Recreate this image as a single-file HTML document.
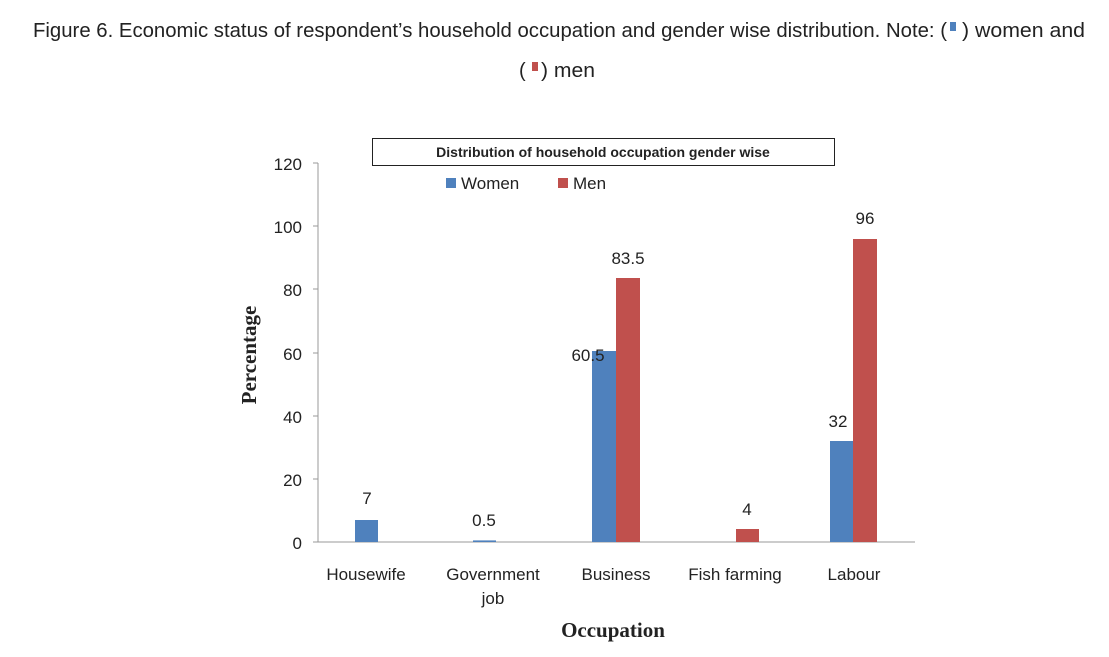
<!DOCTYPE html>
<html><head><style>body{margin:0;background:#fff}</style></head><body>
<svg width="1109" height="652" xmlns="http://www.w3.org/2000/svg">
<g font-family="Liberation Sans Narrow, Liberation Sans, sans-serif" font-size="20" fill="#222">
<text x="33" y="37" textLength="914" lengthAdjust="spacingAndGlyphs">Figure 6. Economic status of respondent’s household occupation and gender wise distribution. Note: (</text>
<text x="962" y="37" textLength="123" lengthAdjust="spacingAndGlyphs">) women  and</text>
<text x="519" y="77">(</text>
<text x="541" y="77" textLength="54" lengthAdjust="spacingAndGlyphs">) men</text>
</g>
<rect x="950" y="22" width="6" height="9" fill="#4f81bd"/>
<rect x="532" y="62" width="6" height="9" fill="#c0504d"/>
<g font-family="Liberation Sans, sans-serif" fill="#222">
<line x1="318" y1="163" x2="318" y2="542" stroke="#999"/>
<line x1="318" y1="542" x2="915" y2="542" stroke="#999"/>
<g stroke="#999">
<line x1="313" y1="163" x2="318" y2="163"/><line x1="313" y1="226" x2="318" y2="226"/><line x1="313" y1="289" x2="318" y2="289"/><line x1="313" y1="353" x2="318" y2="353"/><line x1="313" y1="416" x2="318" y2="416"/><line x1="313" y1="479" x2="318" y2="479"/><line x1="313" y1="542" x2="318" y2="542"/>
</g>
<g font-size="17" text-anchor="end">
<text x="302" y="170">120</text><text x="302" y="233">100</text><text x="302" y="296">80</text><text x="302" y="360">60</text><text x="302" y="423">40</text><text x="302" y="486">20</text><text x="302" y="549">0</text>
</g>
<rect x="372.5" y="138.5" width="462" height="27" fill="#fff" stroke="#222"/>
<text x="603" y="157" text-anchor="middle" font-size="14" font-weight="bold">Distribution of household occupation gender wise</text>
<rect x="446" y="178" width="10" height="10" fill="#4f81bd"/>
<text x="461" y="189" font-size="17">Women</text>
<rect x="558" y="178" width="10" height="10" fill="#c0504d"/>
<text x="573" y="189" font-size="17">Men</text>
<g fill="#4f81bd">
<rect x="355" y="520" width="23" height="22"/>
<rect x="473" y="540.4" width="23" height="1.6"/>
<rect x="592" y="351" width="24" height="191"/>
<rect x="830" y="441" width="23" height="101"/>
</g>
<g fill="#c0504d">
<rect x="616" y="278" width="24" height="264"/>
<rect x="736" y="529" width="23" height="13"/>
<rect x="853" y="239" width="24" height="303"/>
</g>
<g font-size="17" text-anchor="middle">
<text x="367" y="504">7</text><text x="484" y="526">0.5</text><text x="588" y="361">60.5</text><text x="628" y="264">83.5</text>
<text x="747" y="515">4</text><text x="838" y="427">32</text><text x="865" y="224">96</text>
<text x="366" y="580">Housewife</text><text x="493" y="580">Government</text><text x="493" y="604">job</text>
<text x="616" y="580">Business</text><text x="735" y="580">Fish farming</text><text x="854" y="580">Labour</text>
</g>
<text x="613" y="637" text-anchor="middle" font-family="Liberation Serif, serif" font-weight="bold" font-size="21">Occupation</text>
<text transform="translate(256,355) rotate(-90)" text-anchor="middle" font-family="Liberation Serif, serif" font-weight="bold" font-size="21">Percentage</text>
</g>
</svg>
</body></html>
